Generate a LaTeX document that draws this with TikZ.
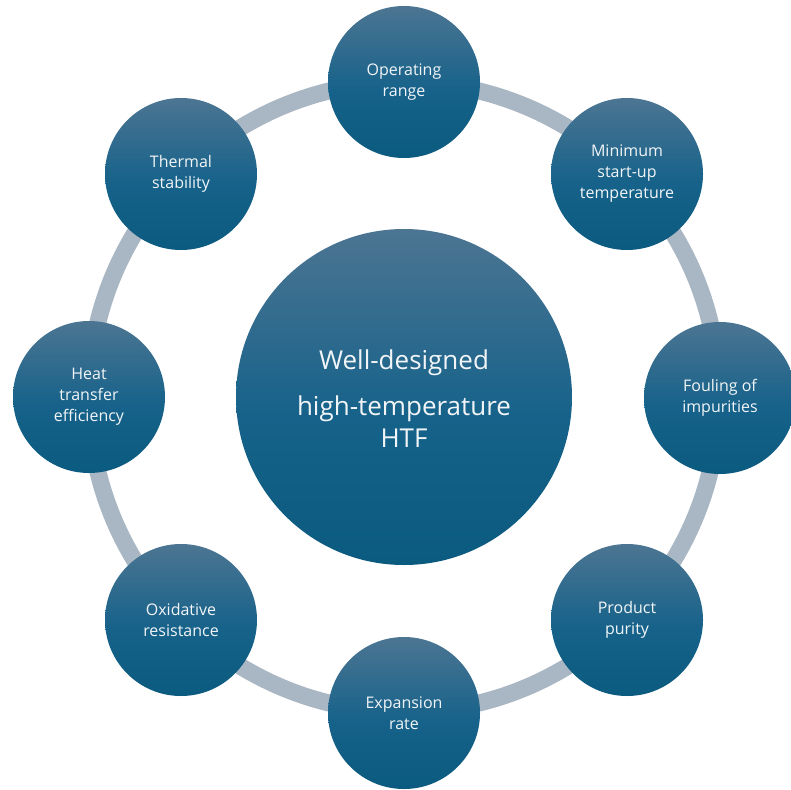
\documentclass[tikz,border=0pt]{standalone}
\usepackage{fontspec}
\setmainfont{Open Sans}
\definecolor{blight}{HTML}{4C7592}
\definecolor{bmid}{HTML}{16628A}
\definecolor{bdark}{HTML}{0B5A7F}
\definecolor{ringgray}{HTML}{A9B6C3}
\definecolor{labelwhite}{HTML}{F2F5F7}
\pgfdeclareverticalshading{bubble}{100bp}{color(0bp)=(bdark); color(25bp)=(bdark); color(47bp)=(bmid); color(75bp)=(blight); color(100bp)=(blight)}
\tikzset{
  hub/.style={circle, shading=bubble, draw=none, minimum size=336pt, inner sep=0pt},
  spoke/.style={circle, shading=bubble, draw=none, minimum size=152pt, inner sep=0pt,
    text=labelwhite, align=center, font=\fontsize{16}{21}\selectfont},
  hubtext/.style={text=labelwhite, align=center, font=\fontsize{26}{32}\selectfont},
  ring/.style={draw=ringgray, line width=17pt}
}
\begin{document}
\begin{tikzpicture}[x=1pt,y=-1pt]
\useasboundingbox (0,0) rectangle (791,789);
\fill[white] (0,0) rectangle (791,789);
% ring behind the bubbles
\coordinate (c) at (404,397);
\draw[ring] (c) circle (315);
% central bubble
\node[hub] (htf) at (c) {};
\node[hubtext] (htftext) at (404,399) {Well-designed\\[14pt]high-temperature\\HTF};
% surrounding bubbles
\node[spoke] (oper) at (404,82) {Operating\\range};
\node[spoke] (minst) at (627,174) {Minimum\\start-up\\temperature};
\node[spoke] (foul) at (720,398) {Fouling of\\impurities};
\node[spoke] (purity) at (627,620) {Product\\purity};
\node[spoke] (expan) at (404,713) {Expansion\\rate};
\node[spoke] (oxid) at (181,620) {Oxidative\\resistance};
\node[spoke] (heat) at (89,397) {Heat\\transfer\\efficiency};
\node[spoke] (therm) at (181,174) {Thermal\\stability};
\end{tikzpicture}
\end{document}
